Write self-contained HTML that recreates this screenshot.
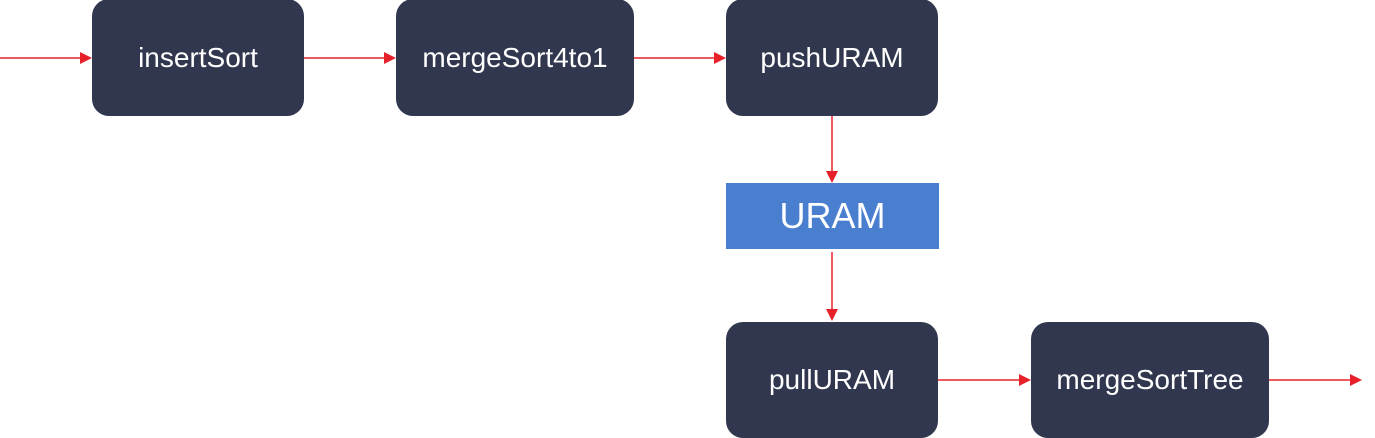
<!DOCTYPE html>
<html><head><style>
body{margin:0;width:1375px;height:437px;overflow:hidden;background:#fff;position:relative;font-family:"Liberation Sans",Arial,sans-serif}
.b{position:absolute;background:#31374e;color:#fff;border-radius:17px;display:flex;align-items:center;justify-content:center;font-size:28px}
.u{position:absolute;background:#4a7fd0;color:#fff;display:flex;align-items:center;justify-content:center;font-size:36px}
svg{position:absolute;left:0;top:0}
</style></head><body>
<div class="b" style="left:92px;top:-1px;width:212px;height:117px">insertSort</div>
<div class="b" style="left:396px;top:-1px;width:238px;height:117px">mergeSort4to1</div>
<div class="b" style="left:726px;top:-1px;width:212px;height:117px">pushURAM</div>
<div class="u" style="left:726px;top:183px;width:213px;height:66px">URAM</div>
<div class="b" style="left:726px;top:322px;width:212px;height:116px">pullURAM</div>
<div class="b" style="left:1031px;top:322px;width:238px;height:116px">mergeSortTree</div>
<svg width="1375" height="437">
<g stroke="#e8202a" stroke-width="1.5" fill="none">
<line x1="0" y1="58" x2="82" y2="58"/>
<line x1="304" y1="58" x2="386" y2="58"/>
<line x1="634" y1="58" x2="716" y2="58"/>
<line x1="832" y1="116" x2="832" y2="172"/>
<line x1="832" y1="252" x2="832" y2="310"/>
<line x1="938" y1="380" x2="1020" y2="380"/>
<line x1="1269" y1="380" x2="1350" y2="380"/>
</g>
<g fill="#e8202a">
<polygon points="92,58 80,52 80,64"/>
<polygon points="396,58 384,52 384,64"/>
<polygon points="726,58 714,52 714,64"/>
<polygon points="832,183 826,171 838,171"/>
<polygon points="832,321 826,309 838,309"/>
<polygon points="1031,380 1019,374 1019,386"/>
<polygon points="1362,380 1350,374 1350,386"/>
</g>
</svg>
</body></html>
